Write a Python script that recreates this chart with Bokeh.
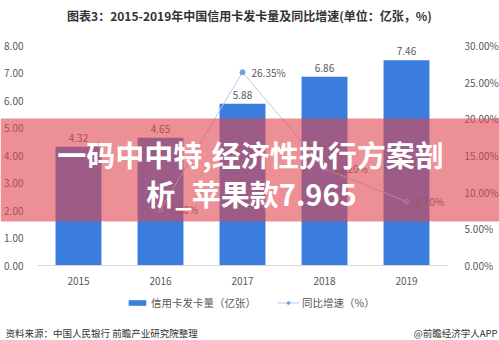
from bokeh.plotting import figure
from bokeh.models import (Range1d, LinearAxis, BoxAnnotation, Label,
                          Legend, LegendItem, ColumnDataSource, FixedTicker, PrintfTickFormatter)
from bokeh.core.properties import value
from bokeh.embed import file_html
from bokeh.resources import INLINE

years = ["2015", "2016", "2017", "2018", "2019"]
cards = [4.32, 4.65, 5.88, 6.86, 7.46]
growth_years = ["2016", "2017", "2018", "2019"]
growth = [7.60, 26.35, 13.20, 8.70]
left_ticks = [0, 1, 2, 3, 4, 5, 6, 7, 8]
right_ticks = [0, 5, 10, 15, 20, 25, 30]

title_text = "图表3：2015-2019年中国信用卡发卡量及同比增速(单位：亿张，%)"
bar_name = "信用卡发卡量（亿张）"
line_name = "同比增速（%）"
source_text = "资料来源：中国人民银行 前瞻产业研究院整理"
credit_text = "@前瞻经济学人APP"
overlay_line1 = "一码中中特,经济性执行方案剖"
overlay_line2 = "析_苹果款7.965"

FONT = "Noto Sans CJK SC"
GREY = "#595959"
BLUE = "#3b7ddd"
LBLUE = "#b3cdee"
DOT = "#6f9fdc"

W, H = 499, 340
X0, XS = 78, 82      # canvas px of first category centre, px per category
Y0, YS = 265, 27.5   # canvas px of value 0, px per unit (left axis)
PCT = 30 / 8         # right axis units per left axis unit


def xd(px):
    return (px - X0) / XS


def yd(py):
    return (Y0 - py) / YS


pos = list(range(len(years)))
gpos = [years.index(y) for y in growth_years]

p = figure(width=W, height=H, x_range=Range1d(xd(0), xd(W)), y_range=Range1d(yd(H), yd(0)),
           x_axis_type=None, y_axis_type=None, output_backend="svg",
           toolbar_location=None, min_border=0)
p.outline_line_color = None
p.grid.visible = False
p.background_fill_color = "white"
p.border_fill_color = "white"
p.extra_y_ranges = {"pct": Range1d(yd(H) * PCT, yd(0) * PCT)}

first, last = pos[0] - 0.5, pos[-1] + 0.5

la = LinearAxis(ticker=FixedTicker(ticks=left_ticks), formatter=PrintfTickFormatter(format="%.2f"),
                fixed_location=first)
ra = LinearAxis(y_range_name="pct", ticker=FixedTicker(ticks=right_ticks),
                formatter=PrintfTickFormatter(format="%.2f%%"), fixed_location=last)
ba = LinearAxis(ticker=FixedTicker(ticks=pos),
                major_label_overrides={i: y for i, y in zip(pos, years)},
                fixed_location=0, bounds=(first, last))
for ax, so in ((la, 8), (ra, 11), (ba, 5)):
    ax.major_tick_line_color = None
    ax.minor_tick_line_color = None
    ax.major_label_standoff = so
    ax.major_label_text_font = FONT
    ax.major_label_text_font_size = "10px"
    ax.major_label_text_color = GREY
la.axis_line_color = None
ra.axis_line_color = None
ba.axis_line_color = "#d9d9d9"
p.add_layout(la, "left")
p.add_layout(ra, "right")
p.add_layout(ba, "below")

src = ColumnDataSource(dict(x=pos, cards=cards, lab=[f"{v:.2f}" for v in cards]))
bars = p.vbar(x="x", top="cards", width=0.56, source=src, fill_color=BLUE, line_color=None)
p.text(x="x", y="cards", text="lab", source=src, text_align="center", text_baseline="bottom",
       y_offset=-5, text_font=value(FONT), text_font_size="10px", text_color=GREY)

gsrc = ColumnDataSource(dict(x=gpos, g=growth, lab=[f"{v:.2f}%" for v in growth]))
line = p.line(x="x", y="g", source=gsrc, y_range_name="pct", line_color=LBLUE, line_width=1)
pts = p.scatter(x="x", y="g", source=gsrc, y_range_name="pct", size=5,
                fill_color=DOT, line_color=DOT)
p.text(x="x", y="g", text="lab", source=gsrc, y_range_name="pct", text_align="left",
       text_baseline="middle", x_offset=9, text_font=value(FONT), text_font_size="10px",
       text_color=GREY)

# title
p.add_layout(Label(x=xd(249), y=yd(15), text=title_text, text_align="center",
                   text_baseline="middle", text_font=FONT, text_font_size="12px",
                   text_font_style="bold", text_color="#333333"))

# legend
legend = Legend(items=[LegendItem(label=bar_name, renderers=[bars]),
                       LegendItem(label=line_name, renderers=[line, pts])],
                location=(126, H - 310), orientation="horizontal",
                glyph_width=22, glyph_height=7, label_height=14, label_standoff=3,
                spacing=21, padding=0, margin=0,
                border_line_color=None, background_fill_alpha=0,
                label_text_font=FONT, label_text_font_size="10.5px", label_text_color=GREY)
p.add_layout(legend)

# footer
p.add_layout(Label(x=xd(5), y=yd(332), text=source_text, text_align="left",
                   text_baseline="middle", text_font=FONT, text_font_size="9.5px",
                   text_color="#333333"))
p.add_layout(Label(x=xd(497), y=yd(332), text=credit_text, text_align="right",
                   text_baseline="middle", text_font=FONT, text_font_size="9.5px",
                   text_color="#333333"))

# overlay banner across the whole picture
p.add_layout(BoxAnnotation(bottom=yd(221), top=yd(118), fill_color="#e0464e", fill_alpha=0.6,
                           line_alpha=0, level="overlay"))
p.add_layout(Label(x=xd(250), y=yd(153), text=overlay_line1,
                   text_align="center", text_baseline="middle", text_font=FONT,
                   text_font_size="29px", text_font_style="bold", text_color="white",
                   level="overlay"))
p.add_layout(Label(x=xd(251), y=yd(192), text=overlay_line2,
                   text_align="center", text_baseline="middle", text_font=FONT,
                   text_font_size="29px", text_font_style="bold", text_color="white",
                   level="overlay"))

open("out.html", "w").write(file_html(p, INLINE))
